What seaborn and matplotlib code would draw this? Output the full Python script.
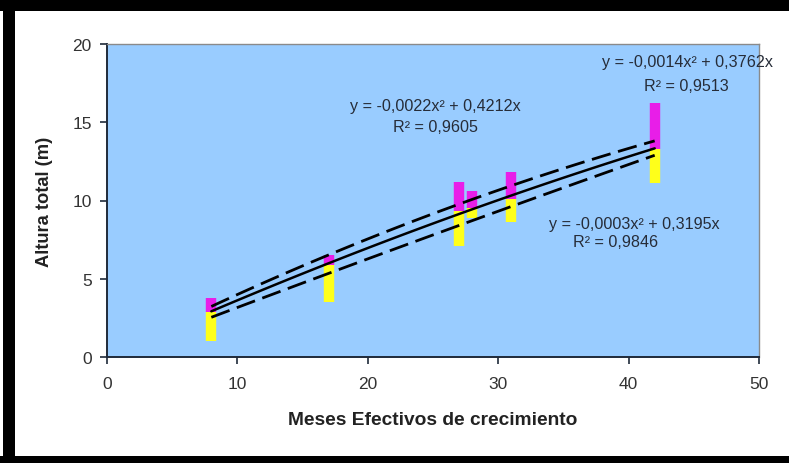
import numpy as np
import pandas as pd
import matplotlib
matplotlib.use("Agg")
import matplotlib.pyplot as plt
from matplotlib.patches import Rectangle
import seaborn as sns

# Growth months at which heights were measured
months = [8, 17, 27, 28, 31, 42]

# Height ranges (m): upper series (magenta) and lower series (yellow)
magenta_low = [2.9, 5.9, 9.3, 9.5, 10.1, 13.3]
magenta_high = [3.8, 6.5, 11.2, 10.6, 11.8, 16.2]
yellow_low = [1.0, 3.5, 7.1, 8.9, 8.6, 11.1]
yellow_high = [2.9, 5.9, 9.3, 9.5, 10.1, 13.3]

# Polynomial trend lines  y = a*x^2 + b*x
trend_a = [-0.0022, -0.0014, -0.0003]
trend_b = [0.4212, 0.3762, 0.3195]
trend_r2 = [0.9605, 0.9513, 0.9846]
trend_style = ["dashed", "solid", "dashed"]

x_ticks = [0, 10, 20, 30, 40, 50]
y_ticks = [0, 5, 10, 15, 20]

sns.set_theme(style="white")
plt.rcParams["font.family"] = ["Liberation Sans", "DejaVu Sans"]

fig = plt.figure(figsize=(7.89, 4.64), dpi=100, facecolor="white")
ax = fig.add_axes([107 / 789, 1 - 358 / 464, 652 / 789, 313 / 464])
ax.set_facecolor("#99CCFF")


def range_frame(lo, hi):
    rows = []
    for i, (x, a, b) in enumerate(zip(months, lo, hi)):
        rows.append({"mes": x, "altura": a, "id": i})
        rows.append({"mes": x, "altura": b, "id": i})
    return pd.DataFrame(rows)


for lo, hi, col in [(magenta_low, magenta_high, "#E81EE8"),
                    (yellow_low, yellow_high, "#FFFF1A")]:
    sns.lineplot(data=range_frame(lo, hi), x="mes", y="altura", units="id",
                 estimator=None, sort=False, color=col, lw=7.5,
                 solid_capstyle="butt", ax=ax, legend=False)

# Trend curves over the measured range
xs = np.linspace(min(months), max(months), 120)
for a, b, ls in zip(trend_a, trend_b, trend_style):
    df = pd.DataFrame({"mes": xs, "altura": a * xs ** 2 + b * xs})
    sns.lineplot(data=df, x="mes", y="altura", color="black",
                 lw=2.0 if ls == "dashed" else 1.8, ax=ax)
    if ls == "dashed":
        ax.lines[-1].set_dashes([7, 2.8])


def fmt(v, digits):
    return f"{v:.{digits}f}".replace(".", ",")


eq_pos = [((25.2, 16.05), (25.2, 14.7)),
          ((44.5, 18.9), (44.4, 17.35)),
          ((40.4, 8.5), (39.0, 7.4))]
txt_color = "#262c38"
for a, b, r2, (p1, p2) in zip(trend_a, trend_b, trend_r2, eq_pos):
    ax.text(p1[0], p1[1], f"y = {fmt(a, 4)}x² + {fmt(b, 4)}x",
            ha="center", va="center", fontsize=11.6, color=txt_color)
    ax.text(p2[0], p2[1], f"R² = {fmt(r2, 4)}",
            ha="center", va="center", fontsize=11.6, color=txt_color)

ax.set_xlim(0, 50)
ax.set_ylim(0, 20)
ax.set_xticks(x_ticks)
ax.set_yticks(y_ticks)
ax.tick_params(axis="both", direction="out", length=5, width=1.2,
               color="#1f2a3a", labelsize=12.5, labelcolor="#333333")
ax.tick_params(axis="x", pad=9)
ax.tick_params(axis="y", pad=6)
ax.tick_params(left=True, bottom=True)

for side in ["left", "bottom"]:
    ax.spines[side].set_color("#1f2a3a")
    ax.spines[side].set_linewidth(1.4)
for side in ["top", "right"]:
    ax.spines[side].set_color("#8a8a8a")
    ax.spines[side].set_linewidth(1.0)

ax.set_xlabel("Meses Efectivos de crecimiento", fontsize=13.8,
              fontweight="bold", color="#222222")
ax.set_ylabel("Altura total (m)", fontsize=13.2, fontweight="bold",
              color="#222222")
ax.xaxis.set_label_coords(0.5, -0.172)
ax.yaxis.set_label_coords(-0.083, 0.5)

# Black frame along the top, left and bottom edges
for (x0, y0, w, h) in [(0, 452, 789, 12), (3, 0, 12, 464), (0, 0, 789, 7)]:
    fig.add_artist(Rectangle((x0 / 789, y0 / 464), w / 789, h / 464,
                             transform=fig.transFigure, facecolor="black",
                             edgecolor="none", zorder=10))

fig.savefig("out.png", dpi=100, facecolor="white")
